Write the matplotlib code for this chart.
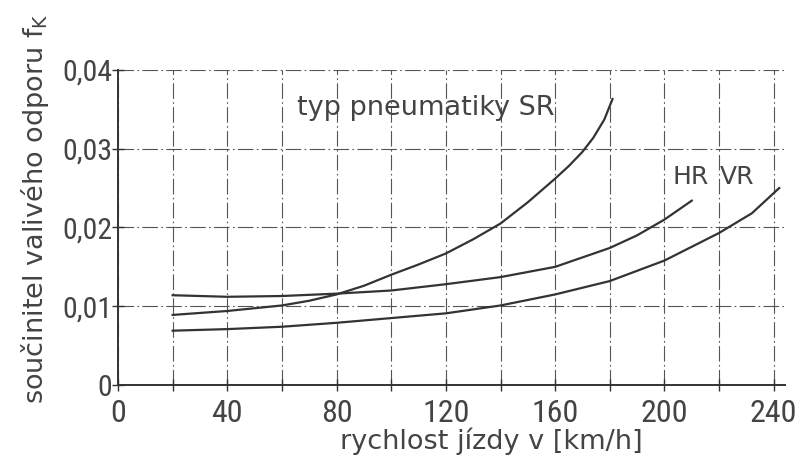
import matplotlib.pyplot as plt
from matplotlib import font_manager
from matplotlib.ticker import MultipleLocator, FuncFormatter

# hodnoty
speed_sr = [20, 40, 60, 70, 80, 90, 100, 110, 120, 130, 140, 150, 160, 165, 170, 174, 178, 181]
fk_sr = [0.0089, 0.0094, 0.0101, 0.0107, 0.0115, 0.0126, 0.0140, 0.0153, 0.0167, 0.0185, 0.0205, 0.0232, 0.0262, 0.0278, 0.0296, 0.0314, 0.0337, 0.0363]

speed_hr = [20, 40, 60, 80, 100, 120, 140, 160, 180, 190, 200, 210]
fk_hr = [0.0114, 0.0112, 0.0113, 0.0116, 0.0120, 0.0128, 0.0137, 0.0150, 0.0174, 0.0190, 0.0210, 0.0234]

speed_vr = [20, 40, 60, 80, 100, 120, 140, 160, 180, 200, 220, 232, 242]
fk_vr = [0.0069, 0.0071, 0.0074, 0.0079, 0.0085, 0.0091, 0.0101, 0.0115, 0.0132, 0.0158, 0.0193, 0.0218, 0.0250]

INK = "#333333"
TXT = "#444444"
plt.rcParams["font.family"] = "DejaVu Sans"

# uzsi pismo pro cisla na osach, pokud je k dispozici
NARROW = "DejaVu Sans"
narrow_ok = False
for cand in ["Liberation Sans Narrow", "DejaVu Sans Condensed", "Roboto Condensed"]:
    try:
        font_manager.findfont(cand, fallback_to_default=False)
        NARROW = cand
        narrow_ok = True
        break
    except ValueError:
        pass

fig = plt.figure(figsize=(8.11, 4.69), dpi=100)
ax = fig.add_axes([0.1455, 0.179, 0.822, 0.672])

for x, y in [(speed_sr, fk_sr), (speed_hr, fk_hr), (speed_vr, fk_vr)]:
    ax.plot(x, y, color=INK, linewidth=1.6, zorder=3)

ax.set_xlim(0, 244)
ax.set_ylim(0, 0.04)
ax.xaxis.set_major_locator(MultipleLocator(40))
ax.xaxis.set_minor_locator(MultipleLocator(20))
ax.yaxis.set_major_locator(MultipleLocator(0.01))
ax.yaxis.set_major_formatter(
    FuncFormatter(lambda v, p: "0" if v == 0 else f"{v:.2f}".replace(".", ","))
)

ax.grid(which="both", color="#555555", linewidth=0.8, linestyle=(0, (14, 3, 1.5, 3)))
ax.tick_params(which="both", direction="inout", length=8, width=1, color=INK,
               labelcolor=TXT, labelfontfamily=NARROW)
ax.tick_params(axis="x", pad=6, labelsize=23 if narrow_ok else 18.5)
ax.tick_params(axis="y", pad=0, labelsize=21.5 if narrow_ok else 17)

for s in ["top", "right"]:
    ax.spines[s].set_visible(False)
for s in ["left", "bottom"]:
    ax.spines[s].set_color(INK)
    ax.spines[s].set_linewidth(1.4)

ax.set_xlabel("rychlost jízdy v [km/h]", fontsize=19.5, color=TXT)
ax.xaxis.set_label_coords(0.56, -0.135)
ax.set_ylabel("součinitel valivého odporu f$_\\mathregular{K}$", fontsize=19.5, color=TXT)
ax.yaxis.set_label_coords(-0.1, 0.56)

ax.text(65.5, 0.0343, "typ pneumatiky SR", fontsize=19.5, color=TXT)
ax.text(209.5, 0.0255, "HR", fontsize=18, color=TXT, ha="center")
ax.text(226.5, 0.0255, "VR", fontsize=18, color=TXT, ha="center")

fig.savefig("out.png", dpi=100, facecolor="white")
